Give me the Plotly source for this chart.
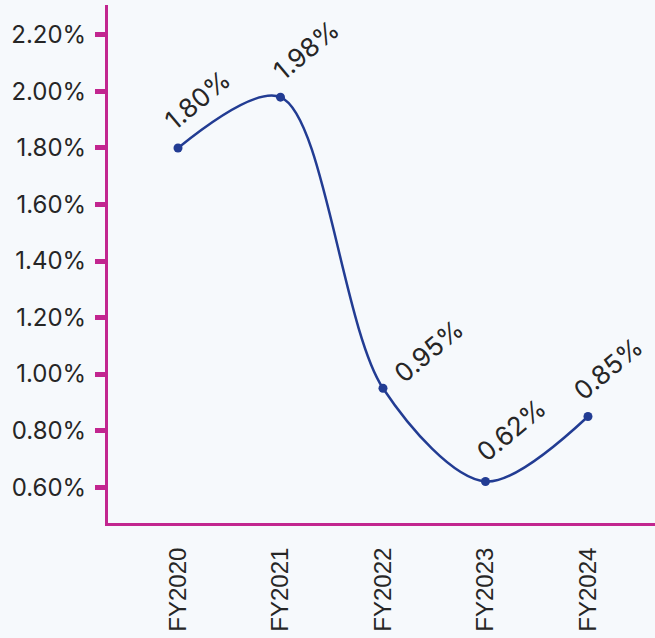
import plotly.graph_objects as go

# Fiscal years and the ratio reported for each
years = ["FY2020", "FY2021", "FY2022", "FY2023", "FY2024"]
ratios = [1.80, 1.98, 0.95, 0.62, 0.85]
value_labels = ["1.80%", "1.98%", "0.95%", "0.62%", "0.85%"]

# Y axis ticks
y_ticks = [0.60, 0.80, 1.00, 1.20, 1.40, 1.60, 1.80, 2.00, 2.20]
y_tick_text = ["0.60%", "0.80%", "1.00%", "1.20%", "1.40%", "1.60%", "1.80%", "2.00%", "2.20%"]

AXIS = "#c2268f"
LINE = "#223c93"
TEXT = "#262626"
BG = "#f6f9fc"

fig = go.Figure()
fig.add_trace(go.Scatter(
    x=years,
    y=ratios,
    mode="lines+markers",
    line=dict(color=LINE, width=2.5, shape="spline", smoothing=0.9),
    marker=dict(color=LINE, size=9),
    hoverinfo="skip",
    showlegend=False,
))

# Rotated value labels above each point
label_offsets = [(20, 48), (26, 48), (46, 38), (26, 52), (20, 48)]
for yr, val, txt, (dx, dy) in zip(years, ratios, value_labels, label_offsets):
    fig.add_annotation(
        x=yr, y=val, text=txt, showarrow=False,
        textangle=-40, xshift=dx, yshift=dy,
        font=dict(family="Inter, Lato, sans-serif", size=26, color=TEXT),
    )

fig.update_layout(
    width=655, height=638,
    margin=dict(l=108, r=0, t=5, b=115),
    paper_bgcolor=BG,
    plot_bgcolor=BG,
    xaxis=dict(
        type="category",
        range=[-0.683, 4.654],
        showgrid=False, zeroline=False,
        showline=True, linecolor=AXIS, linewidth=3,
        ticks="", tickangle=-90,
        ticklabelstandoff=12,
        tickfont=dict(family="Liberation Sans, Arial, sans-serif", size=24, color=TEXT),
    ),
    yaxis=dict(
        range=[0.473, 2.306],
        tickvals=y_ticks, ticktext=y_tick_text,
        showgrid=False, zeroline=False,
        showline=True, linecolor=AXIS, linewidth=3,
        ticks="outside", ticklen=10, tickwidth=5, tickcolor=AXIS,
        ticklabelstandoff=4,
        tickfont=dict(family="Inter, Lato, sans-serif", size=24, color=TEXT),
    ),
)

fig.write_html("out.html")
